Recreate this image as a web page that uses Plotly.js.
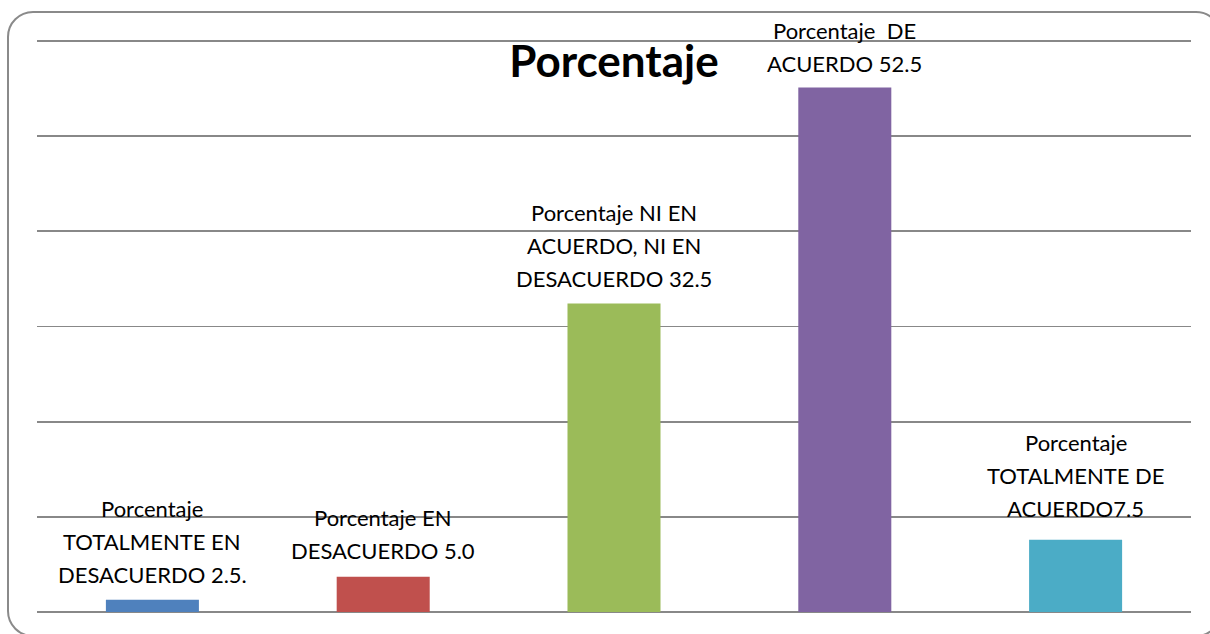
<!DOCTYPE html>
<html>
<head>
<meta charset="utf-8">
<script src="https://cdn.plot.ly/plotly-3.0.1.min.js"></script>
<style>
  html, body { margin: 0; padding: 0; background: #ffffff; overflow: hidden; }
  #wrap { position: relative; width: 1210px; height: 634px; }
  #frame { position: absolute; left: 7px; top: 11px; width: 1215px; height: 626px;
           border: 2px solid #8a8a8a; border-radius: 26px; box-sizing: border-box; pointer-events: none; }
  #chart { position: absolute; left: 0; top: 0; width: 1210px; height: 634px; }
</style>
</head>
<body>
<div id="wrap">
  <div id="chart"></div>
  <div id="frame"></div>
</div>
<script>
// ---- Data ----
const categories = ["TOTALMENTE EN DESACUERDO", "EN DESACUERDO", "NI EN ACUERDO, NI EN DESACUERDO", "DE ACUERDO", "TOTALMENTE DE ACUERDO"];
const barHeights = [1.3, 3.7, 32.4, 55.1, 7.6];
const labelTexts = [
  "Porcentaje<br>TOTALMENTE EN<br>DESACUERDO 2.5.",
  "Porcentaje EN<br>DESACUERDO 5.0",
  "Porcentaje NI EN<br>ACUERDO, NI EN<br>DESACUERDO 32.5",
  "Porcentaje  DE<br>ACUERDO 52.5",
  "Porcentaje<br>TOTALMENTE DE<br>ACUERDO7.5"
];
const chartTitle = "Porcentaje";

// ---- Style ----
const barColors = ["#4F81BD", "#C0504D", "#9BBB59", "#8064A2", "#4BACC6"];
const labelGap = [10, 11, 10, 9, 16];   // pixel gap between bar top and label box
const lineHeight = 33;
const labelFont = {family: "Lato, 'Open Sans', sans-serif", size: 22, color: "#000000"};

const annotations = [];
labelTexts.forEach((t, k) => {
  const lines = t.split("<br>");
  const n = lines.length;
  lines.forEach((ln, i) => {
    annotations.push({
      x: categories[k], y: barHeights[k], xref: "x", yref: "y",
      text: ln, showarrow: false, xanchor: "center", yanchor: "bottom",
      yshift: labelGap[k] + (n - 1 - i) * lineHeight,
      font: labelFont
    });
  });
});

const trace = {
  type: "bar",
  x: categories,
  y: barHeights,
  marker: {color: barColors, line: {width: 0}},
  hoverinfo: "none",
  cliponaxis: false
};

const layout = {
  width: 1210, height: 634,
  margin: {l: 37, r: 19, t: 38.1, b: 21.5, pad: 0},
  paper_bgcolor: "#ffffff", plot_bgcolor: "#ffffff",
  showlegend: false,
  bargap: 0.597,
  title: {
    text: "<b>" + chartTitle + "</b>",
    font: {family: "Lato, 'Open Sans', sans-serif", size: 44, color: "#000000"},
    xref: "paper", x: 0.5, xanchor: "center",
    yref: "container", y: 1 - 62 / 634, yanchor: "middle"
  },
  xaxis: {
    showticklabels: false, showgrid: false, zeroline: false, showline: false, ticks: ""
  },
  yaxis: {
    range: [0, 60.3], dtick: 10, tick0: 0,
    showticklabels: false, ticks: "",
    showgrid: true, gridcolor: "#888888", gridwidth: 1.8,
    zeroline: true, zerolinecolor: "#888888", zerolinewidth: 2.2,
    showline: false
  },
  annotations: annotations
};

Plotly.newPlot("chart", [trace], layout, {displayModeBar: false, staticPlot: true});
</script>
</body>
</html>
